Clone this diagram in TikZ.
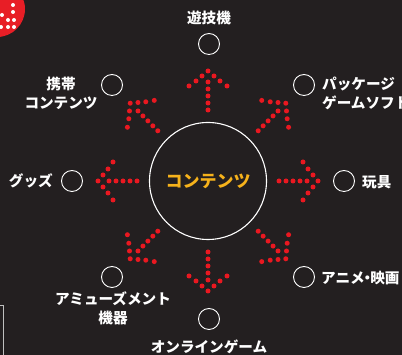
\documentclass[tikz,border=0pt]{standalone}
\usepackage{fontspec}
\newfontfamily\jp{Noto Sans CJK JP}
\definecolor{bg}{RGB}{35,31,32}
\definecolor{dotred}{RGB}{234,24,32}
\definecolor{logored}{RGB}{232,30,38}
\definecolor{gold}{RGB}{246,178,27}
\begin{document}
\begin{tikzpicture}[x=1pt,y=1pt,
  lbl/.style={inner sep=0pt,text=white,font=\jp\bfseries\fontsize{14.6}{19}\selectfont},
  smallc/.style={circle,draw=white,line width=0.9pt,minimum size=21pt,inner sep=0pt},
  reddot/.style={fill=dotred}]
\useasboundingbox (0,0) rectangle (402,355);
\fill[bg] (0,0) rectangle (402,355);
\clip (0,0) rectangle (402,355);
% logo in the corner
\fill[logored] (-3,346) circle (28);
\foreach \p in {(13,350),(13,343),(2,340),(8,335),(14,335),(1,328),(8,328),(14,328)}
  \fill[white] \p circle (2);
% frame corner bottom left
\draw[white!75!black,line width=0.9pt] (0,50) -- (3.5,50) -- (3.5,0);
% centre
\node[circle,draw=white,line width=1.1pt,minimum size=117pt,inner sep=0pt] (C) at (208,174) {};
\node[inner sep=0pt,text=gold,font=\jp\bfseries\fontsize{17}{20}\selectfont] (ct) at (C.center) {コンテンツ};
% dotted arrows
\foreach \a in {0,45,...,315}{
  \begin{scope}[shift={(208,174)},rotate=\a]
    \foreach \d in {0,11,18,25,32,39} \fill[reddot] (110-\d,0) circle (2.5);
    \foreach \b/\l in {5/6,10/12,15/19}{
      \fill[reddot] (110-\b,\l) circle (2.5);
      \fill[reddot] (110-\b,-\l) circle (2.5);}
  \end{scope}}
% small circles
\node[smallc] (n) at (209,311) {};
\node[smallc] (ne) at (304,270) {};
\node[smallc] (e) at (344,174) {};
\node[smallc] (se) at (304,78) {};
\node[smallc] (s) at (209,36) {};
\node[smallc] (sw) at (112,78) {};
\node[smallc] (w) at (72,174) {};
\node[smallc] (nw) at (112,270) {};
% labels
\node[lbl] (ln) at (209,337) {遊技機};
\node[lbl,anchor=west,align=left] (lne) at (322,262) {パッケージ\\ゲームソフト};
\node[lbl,anchor=west] (le) at (362,173) {玩具};
\node[lbl,anchor=west] (lse) at (321,77) {アニメ\kern-4.5pt・\kern-4.5pt 映画};
\node[lbl] (ls) at (209,8) {オンラインゲーム};
\node[lbl,align=center] (lsw) at (113,47) {アミューズメント\\機器};
\node[lbl,anchor=east] (lw) at (53,174) {グッズ};
\node[lbl,align=center] (lnw) at (61,261.5) {携帯\\コンテンツ};
\end{tikzpicture}
\end{document}
